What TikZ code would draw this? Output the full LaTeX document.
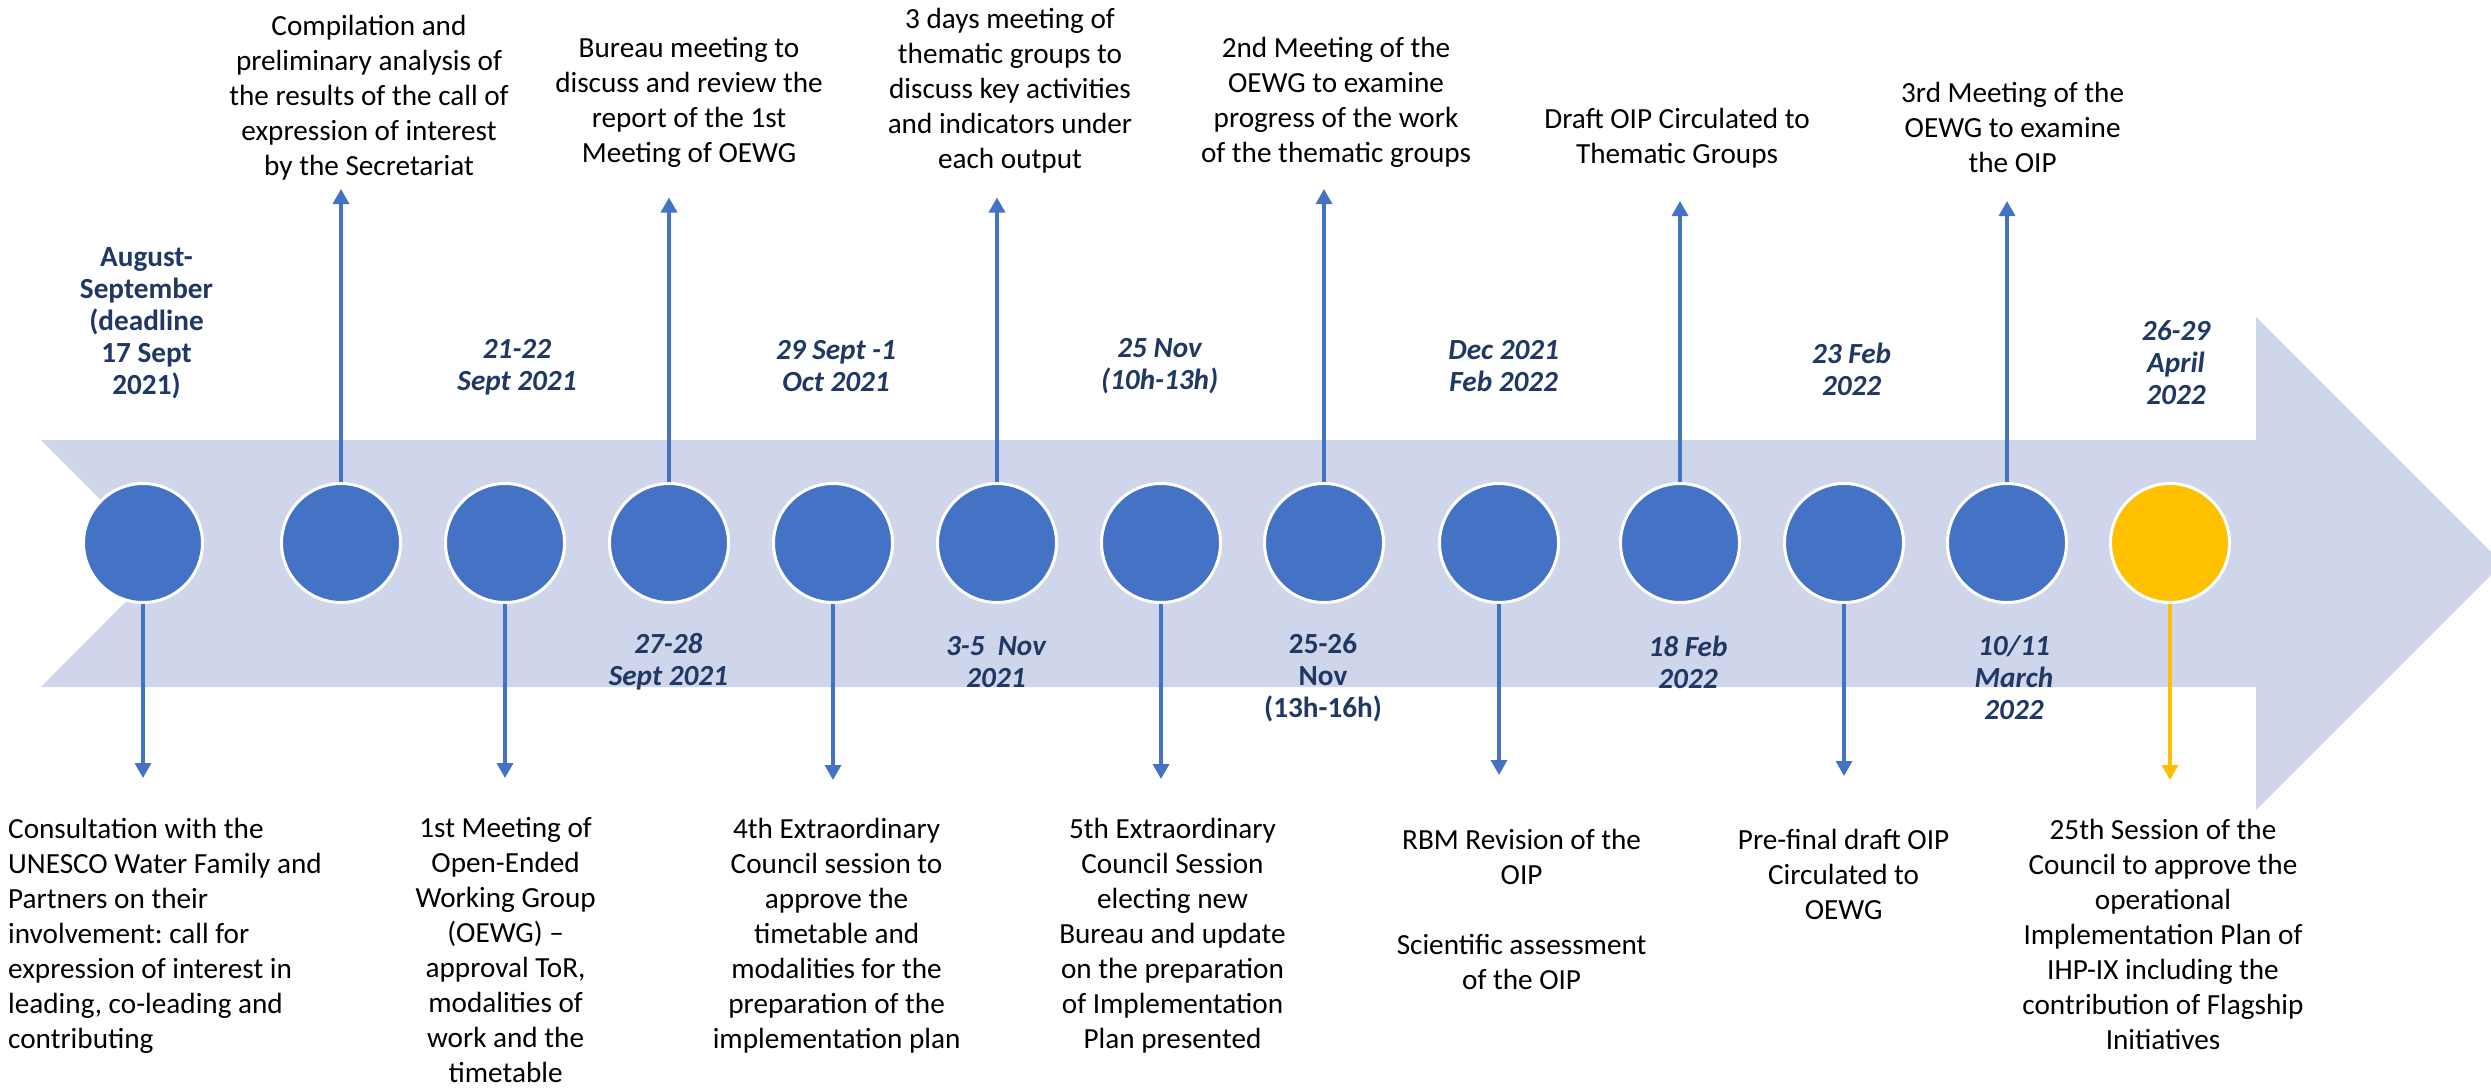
\documentclass[tikz,border=0pt]{standalone}
\usepackage{fontspec}
\setmainfont{Carlito}
\usetikzlibrary{arrows.meta}
\frenchspacing
\definecolor{bandcol}{HTML}{CFD5EA}
\definecolor{dotblue}{HTML}{4472C4}
\definecolor{goldcol}{HTML}{FFC000}
\definecolor{navycol}{HTML}{1F3864}
\tikzset{
  evdot/.style={circle, fill=dotblue, draw=white, line width=3pt, minimum size=119pt, inner sep=0pt},
  conn/.style={draw=dotblue, line width=3.3pt, -{Triangle[width=16pt,length=15pt]}},
  desctext/.style={align=center, font=\fontsize{29.2}{35}\selectfont, inner sep=0pt},
  datetext/.style={align=center, text=navycol, font=\fontsize{29.2}{32}\selectfont\bfseries\itshape, inner sep=0pt},
  dateup/.style={datetext, font=\fontsize{29.2}{32}\selectfont\bfseries},
}
\begin{document}
\begin{tikzpicture}[x=1pt,y=-1pt]
\useasboundingbox (0,0) rectangle (2491,1088);
\fill[white] (0,0) rectangle (2491,1088);
\begin{scope}
\clip (0,0) rectangle (2491,1088);
\fill[bandcol] (41,440) -- (2256,440) -- (2256,317) -- (2502.5,563.5) -- (2256,810) -- (2256,687) -- (41,687) -- (164,563.5) -- cycle;
\end{scope}
% circles
\foreach \i/\x in {1/143,2/341,3/505,4/669,5/833,6/997,7/1161,8/1324,9/1499,10/1680,11/1844,12/2007}
  \node[evdot] (c\i) at (\x,543) {};
\node[evdot, fill=goldcol] (c13) at (2170,543) {};
% up connectors
\foreach \i/\x/\y in {2/341/189,4/669/197.5,6/997/197.5,8/1324/189,10/1680/201,12/2007/201}{
  \coordinate (e\i) at (\x,\y);
  \draw[conn] (c\i.north) -- (e\i);
}
% down connectors
\foreach \i/\x/\y in {1/143/778,3/505/778,5/833/780,7/1161/779,9/1499/775,11/1844/776}{
  \coordinate (e\i) at (\x,\y);
  \draw[conn] (c\i.south) -- (e\i);
}
\coordinate (e13) at (2170,780);
\draw[conn, draw=goldcol] (c13.south) -- (e13);
% top descriptions
\node[desctext] (t2) at (369,97.5) {Compilation and\\preliminary analysis of\\the results of the call of\\expression of interest\\by the Secretariat};
\node[desctext] (t4) at (689,102) {Bureau meeting to\\discuss and review the\\report of the 1st\\Meeting of OEWG};
\node[desctext] (t6) at (1010,90.5) {3 days meeting of\\thematic groups to\\discuss key activities\\and indicators under\\each output};
\node[desctext] (t8) at (1336,102) {2nd Meeting of the\\OEWG to examine\\progress of the work\\of the thematic groups};
\node[desctext] (t10) at (1677,138) {Draft OIP Circulated to\\Thematic Groups};
\node[desctext] (t12) at (2012.6,127) {3rd Meeting of the\\OEWG to examine\\the OIP};
% bottom descriptions
\node[desctext, align=left, anchor=west] (t1) at (8,936) {Consultation with the\\UNESCO Water Family and\\Partners on their\\involvement: call for\\expression of interest in\\leading, co-leading and\\contributing};
\node[desctext] (t3) at (505.6,950) {1st Meeting of\\Open-Ended\\Working Group\\(OEWG) --\\approval ToR,\\modalities of\\work and the\\timetable};
\node[desctext] (t5) at (836.6,936) {4th Extraordinary\\Council session to\\approve the\\timetable and\\modalities for the\\preparation of the\\implementation plan};
\node[desctext] (t7) at (1172.5,936) {5th Extraordinary\\Council Session\\electing new\\Bureau and update\\on the preparation\\of Implementation\\Plan presented};
\node[desctext] (t9) at (1521.6,909) {RBM Revision of the\\OIP\\[35pt]Scientific assessment\\of the OIP};
\node[desctext] (t11) at (1843.6,874) {Pre-final draft OIP\\Circulated to\\OEWG};
\node[desctext] (t13) at (2163,934.5) {25th Session of the\\Council to approve the\\operational\\Implementation Plan of\\IHP-IX including the\\contribution of Flagship\\Initiatives};
% dates above band
\node[dateup] (d1) at (146.5,323) {August-\\September\\(deadline\\17 Sept\\2021)};
\node[datetext] (d2) at (517,367.5) {21-22\\Sept 2021};
\node[datetext] (d3) at (836,366) {29 Sept -1\\Oct 2021};
\node[datetext] (d4) at (1159.6,366) {25 Nov\\(10h-13h)};
\node[datetext] (d5) at (1503.7,366) {Dec 2021\\Feb 2022};
\node[datetext] (d6) at (1851.6,369.6) {23 Feb\\2022};
\node[datetext] (d7) at (2176,363) {26-29\\April\\2022};
% dates in band, below circles
\node[datetext] (d8) at (668.4,662) {27-28\\Sept 2021};
\node[datetext] (d9) at (996,662) {3-5~ Nov\\2021};
\node[dateup] (d10) at (1323,678) {25-26\\Nov\\(13h-16h)};
\node[datetext] (d11) at (1688,662) {18 Feb\\2022};
\node[datetext] (d12) at (2014,678) {10/11\\March\\2022};
\end{tikzpicture}
\end{document}
